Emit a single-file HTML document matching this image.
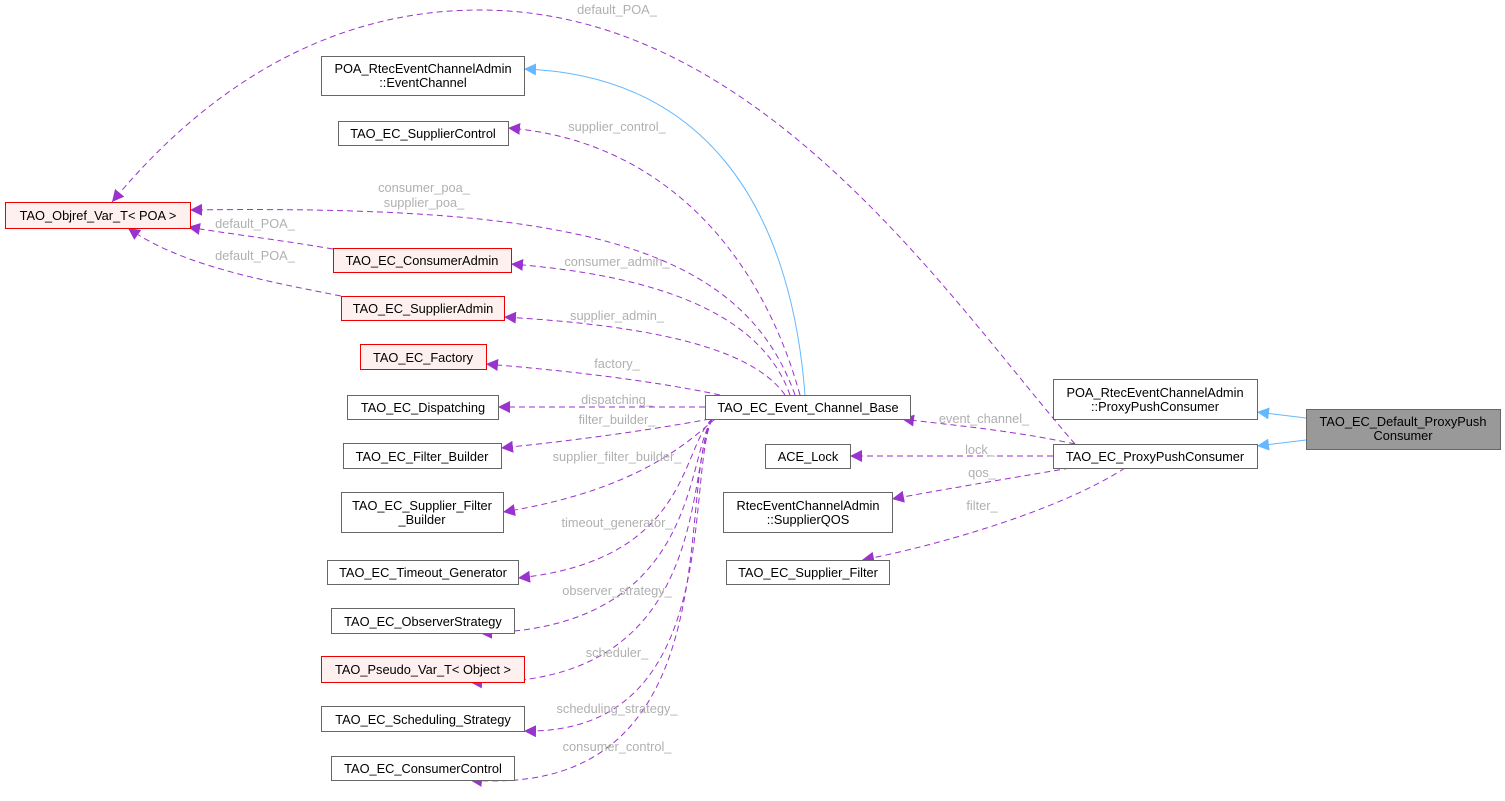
<!DOCTYPE html>
<html><head><meta charset="utf-8"><style>
html,body{margin:0;padding:0;background:#fff;}
svg{display:block;}
text{font-family:"Liberation Sans",sans-serif;font-size:12.8px;}
.n{fill:#fff;stroke:#666;stroke-width:1;}
.r{fill:#fff0f0;stroke:#e00;stroke-width:1;}
.g{fill:#999;stroke:#666;}
.e{fill:none;stroke:#9a32cd;stroke-width:1;stroke-dasharray:6,4;}
.b{fill:none;stroke:#63b8ff;stroke-width:1;}
.l{fill:#b0b0b0;}
</style></head><body>
<svg width="1505" height="801" viewBox="0 0 1505 801">
<defs>
<marker id="p" viewBox="0 0 10 10" refX="10" refY="5" markerWidth="12" markerHeight="12" markerUnits="userSpaceOnUse" orient="auto"><path d="M0,0 L10,5 L0,10 z" fill="#9a32cd"/></marker>
<marker id="bl" viewBox="0 0 10 10" refX="10" refY="5" markerWidth="12" markerHeight="12" markerUnits="userSpaceOnUse" orient="auto"><path d="M0,0 L10,5 L0,10 z" fill="#63b8ff"/></marker>
</defs>
<path class="b" d="M805,395 C790,200 700,75 524,69" marker-end="url(#bl)"/>
<path class="b" d="M1306,418 L1257,412" marker-end="url(#bl)"/>
<path class="b" d="M1306,440 L1257,446" marker-end="url(#bl)"/>
<path class="e" d="M1075,444 C950,300 760,10 480,10 C300,10 180,120 112,202" marker-end="url(#p)"/>
<path class="e" d="M800,395 C760,250 660,140 508,128" marker-end="url(#p)"/>
<path class="e" d="M795,395 C740,240 560,205 190,210" marker-end="url(#p)"/>
<path class="e" d="M333,249 C280,240 230,234 188,227" marker-end="url(#p)"/>
<path class="e" d="M341,296 C260,280 180,265 128,228" marker-end="url(#p)"/>
<path class="e" d="M790,395 C760,310 650,275 511,264" marker-end="url(#p)"/>
<path class="e" d="M785,395 C750,345 640,325 504,317" marker-end="url(#p)"/>
<path class="e" d="M720,395 C650,380 560,370 486,364" marker-end="url(#p)"/>
<path class="e" d="M705,407 L498,407" marker-end="url(#p)"/>
<path class="e" d="M710,419 C650,430 580,440 501,448" marker-end="url(#p)"/>
<path class="e" d="M715,419 C690,440 640,490 503,512" marker-end="url(#p)"/>
<path class="e" d="M712,419 C680,450 690,560 518,578" marker-end="url(#p)"/>
<path class="e" d="M712,419 C685,460 700,630 480,633" marker-end="url(#p)"/>
<path class="e" d="M712,419 C685,470 715,690 470,682" marker-end="url(#p)"/>
<path class="e" d="M712,419 C685,480 725,735 524,731" marker-end="url(#p)"/>
<path class="e" d="M712,419 C675,490 735,800 470,780" marker-end="url(#p)"/>
<path class="e" d="M1075,444 C1010,430 950,425 902,419" marker-end="url(#p)"/>
<path class="e" d="M1053,456 L850,456" marker-end="url(#p)"/>
<path class="e" d="M1070,468 C1000,480 940,490 892,499" marker-end="url(#p)"/>
<path class="e" d="M1125,468 C1060,510 940,545 862,560" marker-end="url(#p)"/>
<g class="l" text-anchor="middle">
<text x="617" y="14">default_POA_</text>
<text x="617" y="131">supplier_control_</text>
<text x="424" y="192">consumer_poa_</text>
<text x="424" y="207">supplier_poa_</text>
<text x="255" y="228">default_POA_</text>
<text x="255" y="260">default_POA_</text>
<text x="617" y="266">consumer_admin_</text>
<text x="617" y="320">supplier_admin_</text>
<text x="617" y="368">factory_</text>
<text x="617" y="404">dispatching_</text>
<text x="617" y="424">filter_builder_</text>
<text x="617" y="461">supplier_filter_builder_</text>
<text x="617" y="527">timeout_generator_</text>
<text x="617" y="595">observer_strategy_</text>
<text x="617" y="657">scheduler_</text>
<text x="617" y="713">scheduling_strategy_</text>
<text x="617" y="751">consumer_control_</text>
<text x="984" y="423">event_channel_</text>
<text x="980" y="454">lock_</text>
<text x="982" y="477">qos_</text>
<text x="982" y="510">filter_</text>
</g>
<g text-anchor="middle">
<rect class="n" x="321.5" y="56.5" width="203" height="39"/><text x="423" y="73">POA_RtecEventChannelAdmin</text><text x="423" y="87">::EventChannel</text>
<rect class="n" x="338.5" y="121.5" width="170" height="24"/><text x="423" y="138">TAO_EC_SupplierControl</text>
<rect class="r" x="5.5" y="202.5" width="185" height="26"/><text x="98" y="220">TAO_Objref_Var_T&lt; POA &gt;</text>
<rect class="r" x="333.5" y="248.5" width="178" height="24"/><text x="422" y="265">TAO_EC_ConsumerAdmin</text>
<rect class="r" x="341.5" y="296.5" width="163" height="24"/><text x="423" y="313">TAO_EC_SupplierAdmin</text>
<rect class="r" x="360.5" y="344.5" width="126" height="25"/><text x="423" y="362">TAO_EC_Factory</text>
<rect class="n" x="347.5" y="395.5" width="151" height="24"/><text x="423" y="412">TAO_EC_Dispatching</text>
<rect class="n" x="343.5" y="443.5" width="158" height="25"/><text x="422" y="461">TAO_EC_Filter_Builder</text>
<rect class="n" x="341.5" y="492.5" width="162" height="40"/><text x="422" y="510">TAO_EC_Supplier_Filter</text><text x="422" y="524">_Builder</text>
<rect class="n" x="327.5" y="560.5" width="191" height="24"/><text x="423" y="577">TAO_EC_Timeout_Generator</text>
<rect class="n" x="331.5" y="608.5" width="183" height="25"/><text x="423" y="626">TAO_EC_ObserverStrategy</text>
<rect class="r" x="321.5" y="656.5" width="203" height="26"/><text x="423" y="674">TAO_Pseudo_Var_T&lt; Object &gt;</text>
<rect class="n" x="321.5" y="706.5" width="203" height="25"/><text x="423" y="724">TAO_EC_Scheduling_Strategy</text>
<rect class="n" x="331.5" y="756.5" width="183" height="24"/><text x="423" y="773">TAO_EC_ConsumerControl</text>
<rect class="n" x="705.5" y="395.5" width="205" height="24"/><text x="808" y="412">TAO_EC_Event_Channel_Base</text>
<rect class="n" x="765.5" y="444.5" width="85" height="24"/><text x="808" y="461">ACE_Lock</text>
<rect class="n" x="723.5" y="492.5" width="169" height="40"/><text x="808" y="510">RtecEventChannelAdmin</text><text x="808" y="524">::SupplierQOS</text>
<rect class="n" x="726.5" y="560.5" width="163" height="24"/><text x="808" y="577">TAO_EC_Supplier_Filter</text>
<rect class="n" x="1053.5" y="379.5" width="204" height="40"/><text x="1155" y="397">POA_RtecEventChannelAdmin</text><text x="1155" y="411">::ProxyPushConsumer</text>
<rect class="n" x="1053.5" y="444.5" width="204" height="24"/><text x="1155" y="461">TAO_EC_ProxyPushConsumer</text>
<rect class="g" x="1306.5" y="409.5" width="194" height="40"/><text x="1403" y="426">TAO_EC_Default_ProxyPush</text><text x="1403" y="440">Consumer</text>
</g>
</svg>
</body></html>
